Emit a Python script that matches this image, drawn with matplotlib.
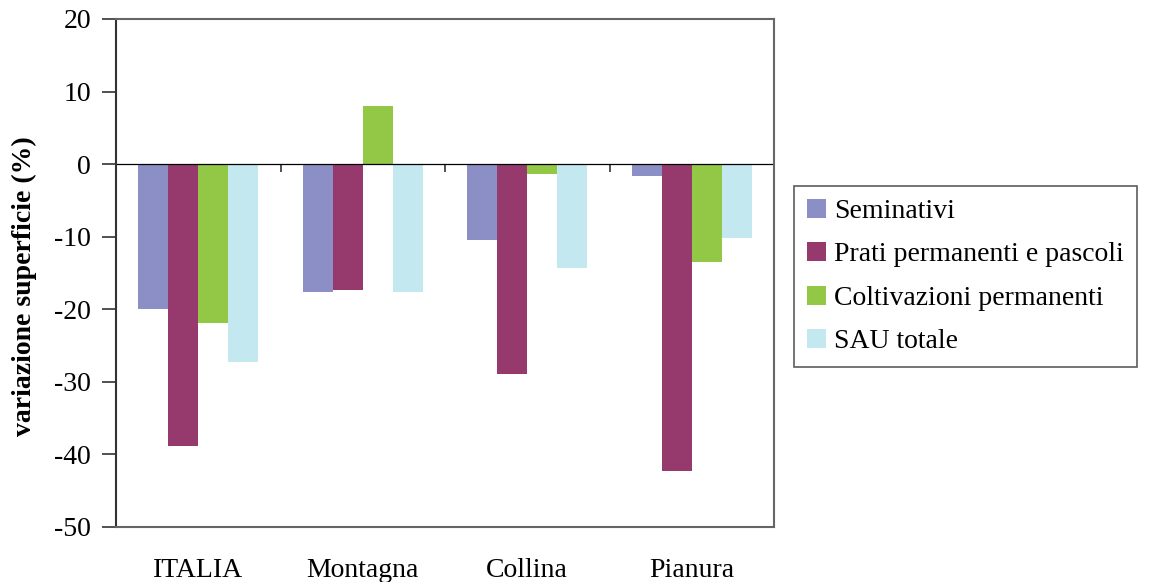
import numpy as np
import matplotlib
matplotlib.use('Agg')
import matplotlib.pyplot as plt

plt.rcParams['font.family'] = ['Liberation Serif', 'DejaVu Serif']
plt.rcParams['axes.unicode_minus'] = False

categorie = ['ITALIA', 'Montagna', 'Collina', 'Pianura']
serie = ['Seminativi', 'Prati permanenti e pascoli', 'Coltivazioni permanenti', 'SAU totale']
seminativi = [-20.0, -17.6, -10.5, -1.7]
prati = [-38.8, -17.3, -28.9, -42.3]
coltivazioni = [-21.9, 8.0, -1.4, -13.5]
sau = [-27.2, -17.6, -14.3, -10.2]
colori = ['#8B8FC6', '#963A6D', '#92C846', '#C3E8EF']

valori = [seminativi, prati, coltivazioni, sau]

fig = plt.figure(figsize=(11.49, 5.82), dpi=100)
ax = fig.add_axes([116/1149, 1-527/582, (774-116)/1149, (527-19)/582])

x = np.arange(len(categorie))
w = 0.182
for i, (v, nome, c) in enumerate(zip(valori, serie, colori)):
    ax.bar(x + (i - 1.5)*w, v, w, color=c, label=nome, linewidth=0)

ax.axhline(0, color='black', linewidth=0.9)
ax.set_xlim(-0.5, 3.5)
ax.set_ylim(-50, 20)
ax.set_yticks(np.arange(-50, 21, 10))
ax.set_xticks(x)
ax.set_xticklabels(categorie, fontsize=20)
ax.tick_params(axis='x', length=0, pad=22)
ax.tick_params(axis='y', labelsize=20, length=10, width=1.2, color='#333333', direction='out', pad=8)
for s in ax.spines.values():
    s.set_color('#666666')
    s.set_linewidth(1.5)
ax.spines['left'].set_color('#333333')

# tacche sull'asse dello zero
sec = ax.secondary_xaxis(50/70)
sec.set_xticks(np.arange(-0.5, 3.6, 1))
sec.set_xticklabels([])
sec.tick_params(axis='x', length=6, width=1.2, color='#333333', direction='out')
sec.xaxis.set_ticks_position('bottom')
sec.spines['bottom'].set_visible(False)
sec.spines['top'].set_visible(False)

ax.set_ylabel('variazione superficie (%)', fontsize=20, fontweight='bold')
ax.yaxis.set_label_coords(-0.12, 0.475)

leg = fig.legend(loc='upper left', bbox_to_anchor=(794/1149, 1-186/582), fontsize=20,
                 frameon=True, fancybox=False, edgecolor='#333333', borderpad=0.45,
                 handlelength=0.7, handleheight=0.7, handletextpad=0.3, labelspacing=0.65,
                 borderaxespad=0)
leg.get_frame().set_linewidth(1.2)

fig.savefig('out.png', dpi=100)
